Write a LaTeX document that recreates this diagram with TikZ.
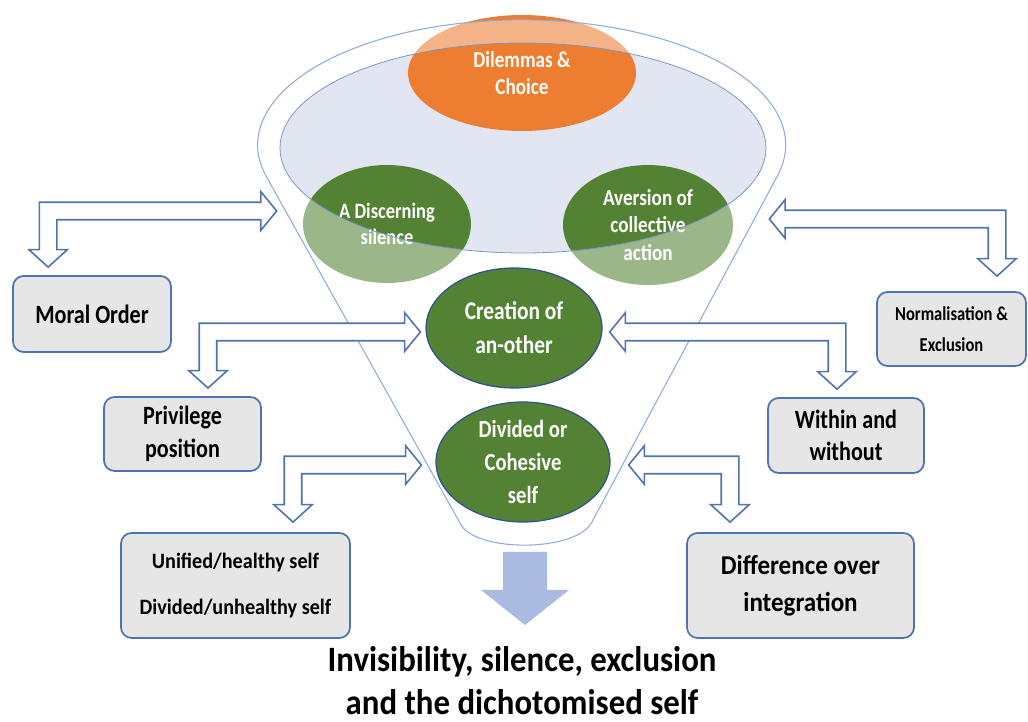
\documentclass[tikz,border=0pt]{standalone}
\usepackage{fontspec}
\setmainfont{Carlito}[FakeStretch=0.92]
\newfontfamily\narrow{Carlito}[FakeStretch=0.84]
\usepackage{tikz}
\usetikzlibrary{shapes}
\usetikzlibrary{calc}

\definecolor{orng}{RGB}{237,125,49}
\definecolor{grn}{RGB}{84,130,53}
\definecolor{lavender}{RGB}{226,230,243}
\definecolor{rim}{RGB}{143,170,220}
\definecolor{edge}{RGB}{79,114,176}
\definecolor{ovaledge}{RGB}{47,82,143}
\definecolor{boxgray}{RGB}{231,230,230}
\definecolor{downblue}{RGB}{171,186,225}

\tikzset{
  box/.style={rectangle, rounded corners=6pt, draw=edge, line width=1pt, fill=boxgray, align=center, text=black},
  oval/.style={ellipse, inner sep=0pt, align=center, text=white},
  hollow/.style={draw=edge, fill=white, line width=0.9pt, line join=miter},
}

% bent hollow arrow: #1 tip at the box, #2 tip at the funnel, #3 = 1 (points right) or -1 (points left)
\newcommand{\bentarrow}[3]{%
  \draw[hollow] let \p1=(#1), \p2=(#2) in
    ({\x1-(#3)*5pt}, {\y2+5pt}) -- ({\x2-(#3)*9pt}, {\y2+5pt}) -- ({\x2-(#3)*9pt}, {\y2+11pt})
    -- (\x2, \y2) -- ({\x2-(#3)*9pt}, {\y2-11pt}) -- ({\x2-(#3)*9pt}, {\y2-5pt})
    -- ({\x1+(#3)*5pt}, {\y2-5pt}) -- ({\x1+(#3)*5pt}, {\y1+10pt}) -- ({\x1+(#3)*11pt}, {\y1+10pt})
    -- (\x1, \y1) -- ({\x1-(#3)*11pt}, {\y1+10pt}) -- ({\x1-(#3)*5pt}, {\y1+10pt}) -- cycle;}

\begin{document}
\begin{tikzpicture}[x=0.02cm, y=-0.02cm]
    \useasboundingbox (0,0) rectangle (1028,722);

    % Funnel inside
    \fill[lavender] (523,148) ellipse [x radius=243, y radius=105];

    % Nodes in the funnel
    \node[oval, fill=orng, minimum width=4.56cm, minimum height=2.32cm, font=\narrow\bfseries\fontsize{13}{15.3}\selectfont] (dilemma) at (522,73) {Dilemmas \&\\Choice};
    \node[oval, fill=grn, minimum width=3.36cm, minimum height=2.36cm, font=\narrow\bfseries\fontsize{12.5}{15}\selectfont] (discern) at (387,224) {A Discerning\\silence};
    \node[oval, fill=grn, minimum width=3.4cm, minimum height=2.4cm, font=\narrow\bfseries\fontsize{13}{15.6}\selectfont] (aversion) at (648,225) {Aversion of\\collective\\action};

    % Funnel rim and cone
    \fill[white, opacity=0.42, even odd rule] (266,176) arc [start angle=165.6, end angle=374.4, x radius=264, y radius=125]
        -- (593,520) .. controls (580,553) and (473,553) .. (460,523) -- cycle
        (523,148) ellipse [x radius=243, y radius=105];
    \draw[rim, line width=0.6pt] (266,176) arc [start angle=165.6, end angle=374.4, x radius=264, y radius=125]
        -- (593,520) .. controls (580,553) and (473,553) .. (460,523) -- cycle;
    \draw[edge!75, line width=0.45pt] (523,148) ellipse [x radius=243, y radius=105];

    \node[oval, fill=grn, draw=ovaledge, line width=0.7pt, minimum width=3.52cm, minimum height=2.4cm, font=\narrow\bfseries\fontsize{14.5}{19.3}\selectfont] (creation) at (514,328) {Creation of\\an-other};
    \node[oval, fill=grn, draw=ovaledge, line width=0.7pt, minimum width=3.48cm, minimum height=2.4cm, font=\narrow\bfseries\fontsize{14}{19}\selectfont] (divided) at (523,462) {Divided or\\Cohesive\\self};

    % Boxes
    \node[box, minimum width=3.16cm, minimum height=1.52cm, font=\narrow\bfseries\fontsize{15}{18.7}\selectfont] (moral) at (92,314) {Moral Order};
    \node[box, minimum width=3.14cm, minimum height=1.48cm, font=\narrow\bfseries\fontsize{15}{18.7}\selectfont] (privilege) at (182.5,434) {Privilege\\position};
    \node[box, minimum width=4.58cm, minimum height=2.1cm, font=\bfseries\fontsize{12.5}{26}\selectfont] (unified) at (235.5,585.5) {Unified/healthy self\\Divided/unhealthy self};
    \node[box, minimum width=2.98cm, minimum height=1.48cm, font=\narrow\bfseries\fontsize{11.2}{17.6}\selectfont] (normal) at (951.5,329) {Normalisation \&\\Exclusion};
    \node[box, minimum width=3.12cm, minimum height=1.5cm, font=\narrow\bfseries\fontsize{15}{18.2}\selectfont] (within) at (846,435.5) {Within and\\without};
    \node[box, minimum width=4.54cm, minimum height=2.1cm, font=\bfseries\fontsize{15.5}{21}\selectfont] (difference) at (800.5,585.5) {Difference over\\integration};

    % Arrow ends
    \coordinate (moral-in) at ($(moral.north west)+(36,-8)$);
    \coordinate (discern-in) at ($(discern.west)+(-26,-13)$);
    \coordinate (privilege-in) at ($(privilege.north)+(25.5,-8)$);
    \coordinate (creation-l) at ($(creation.west)+(-5,4)$);
    \coordinate (unified-in) at ($(unified.north)+(57.5,-10)$);
    \coordinate (divided-l) at ($(divided.west)+(-14,3)$);
    \coordinate (normal-in) at ($(normal.north)+(45.5,-15)$);
    \coordinate (aversion-in) at ($(aversion.east)+(36,-6)$);
    \coordinate (within-in) at ($(within.north)+(-9,-8)$);
    \coordinate (creation-r) at ($(creation.east)+(7,4)$);
    \coordinate (difference-in) at ($(difference.north)+(-70.5,-10)$);
    \coordinate (divided-r) at ($(divided.east)+(18,3)$);

    % Bent arrows
    \bentarrow{moral-in}{discern-in}{1}
    \bentarrow{privilege-in}{creation-l}{1}
    \bentarrow{unified-in}{divided-l}{1}
    \bentarrow{normal-in}{aversion-in}{-1}
    \bentarrow{within-in}{creation-r}{-1}
    \bentarrow{difference-in}{divided-r}{-1}

    % Result
    \node[font=\fontsize{20.3}{24.4}\selectfont\bfseries, align=center] (result) at (522,681) {Invisibility, silence, exclusion\\and the dichotomised self};
    \fill[downblue] (503,552) -- (547,552) -- (547,590) -- (569,590) -- (525,625) -- (481,590) -- (503,590) -- cycle;

\end{tikzpicture}
\end{document}
